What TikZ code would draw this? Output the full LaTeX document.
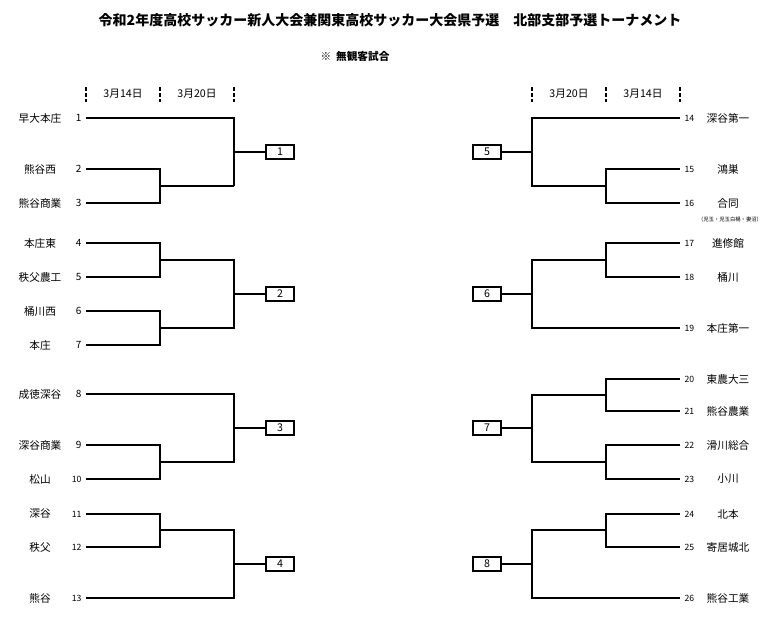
\documentclass[tikz,border=0pt]{standalone}
\usepackage{fontspec}
\setmainfont{Noto Sans CJK JP}
\begin{document}
\begin{tikzpicture}[x=0.75pt,y=-0.75pt,
  ln/.style={line width=1.4pt},
  tick/.style={line width=1pt,dash pattern=on 3pt off 1.5pt},
  nm/.style={font=\fontsize{8}{9}\selectfont},
  num/.style={font=\fontsize{7.5}{8}\selectfont,inner sep=1pt},
  snum/.style={font=\fontsize{6.5}{7}\selectfont,inner sep=1pt},
  wbox/.style={draw,line width=1.6pt,minimum width=21pt,minimum height=11pt,inner sep=0pt,font=\fontsize{8}{9}\selectfont}]
\useasboundingbox (0,0) rectangle (781,619);
\node (title) at (390,20) {\fontsize{10.5}{12}\selectfont\bfseries 令和2年度高校サッカー新人大会兼関東高校サッカー大会県予選\quad 北部支部予選トーナメント};
\node (note) at (355,56) {\fontsize{8}{9}\selectfont\bfseries ※\ \ 無観客試合};
% header ticks
\foreach \x in {86,160,234,532,606,680} \draw[tick] (\x,87) -- (\x,102);
\node[nm] (hL1) at (123,94) {3月14日};
\node[nm] (hL2) at (197,94) {3月20日};
\node[nm] (hR1) at (569,94) {3月20日};
\node[nm] (hR2) at (643,94) {3月14日};
% left teams
\foreach \i/\y/\t in {1/118/早大本庄,2/169/熊谷西,3/203/熊谷商業,4/243/本庄東,5/277/秩父農工,6/311/桶川西,7/345/本庄,8/394/成徳深谷,9/445/深谷商業,10/479/松山,11/514/深谷,12/547/秩父,13/598/熊谷}{
  \node[nm] (tl\i) at (40,\y) {\t};
  \coordinate (l\i) at (86,\y);
}
\foreach \i/\y in {1/118,2/169,3/203,4/243,5/277,6/311,7/345,8/394,9/445}
  \node[num,anchor=east] (nl\i) at (83,\y) {\i};
\foreach \i/\y in {10/479,11/514,12/547,13/598}
  \node[snum,anchor=east] (nl\i) at (83,\y) {\i};
% right teams
\foreach \i/\y/\t in {14/118/深谷第一,15/169/鴻巣,16/203/合同,17/243/進修館,18/277/桶川,19/328/本庄第一,20/379/東農大三,21/411/熊谷農業,22/445/滑川総合,23/479/小川,24/514/北本,25/547/寄居城北,26/598/熊谷工業}{
  \node[nm] (tr\i) at (728,\y) {\t};
  \node[snum,anchor=west] (nr\i) at (683,\y) {\i};
  \coordinate (r\i) at (680,\y);
}
\node[font=\fontsize{4}{5}\selectfont] (note16) at (730,219) {（児玉・児玉白楊・妻沼）};
% boxes
\foreach \k/\y in {1/152,2/294,3/428,4/564} \node[wbox] (b\k) at (280,\y) {\k};
\foreach \k/\y in {5/152,6/294,7/428,8/564} \node[wbox] (b\k) at (487,\y) {\k};
% left bracket
\draw[ln] (l1) -- (234,118) -- (234,186) (234,152) -- (b1.west);
\draw[ln] (l2) -- (160,169) -- (160,203) -- (l3) (160,186) -- (234,186);
\draw[ln] (l4) -- (160,243) -- (160,277) -- (l5) (160,260) -- (234,260) -- (234,328) -- (160,328);
\draw[ln] (l6) -- (160,311) -- (160,345) -- (l7) (234,294) -- (b2.west);
\draw[ln] (l8) -- (234,394) -- (234,462) -- (160,462) (234,428) -- (b3.west);
\draw[ln] (l9) -- (160,445) -- (160,479) -- (l10);
\draw[ln] (l11) -- (160,514) -- (160,547) -- (l12) (160,530) -- (234,530) -- (234,598) -- (l13) (234,564) -- (b4.west);
% right bracket
\draw[ln] (r14) -- (532,118) -- (532,186) -- (606,186) (532,152) -- (b5.east);
\draw[ln] (r15) -- (606,169) -- (606,203) -- (r16);
\draw[ln] (r17) -- (606,243) -- (606,277) -- (r18) (606,260) -- (532,260) -- (532,328) -- (r19) (532,294) -- (b6.east);
\draw[ln] (r20) -- (606,379) -- (606,411) -- (r21) (606,395) -- (532,395) -- (532,462) -- (606,462) (532,428) -- (b7.east);
\draw[ln] (r22) -- (606,445) -- (606,479) -- (r23);
\draw[ln] (r24) -- (606,514) -- (606,547) -- (r25) (606,530) -- (532,530) -- (532,598) -- (r26) (532,564) -- (b8.east);
\end{tikzpicture}
\end{document}
